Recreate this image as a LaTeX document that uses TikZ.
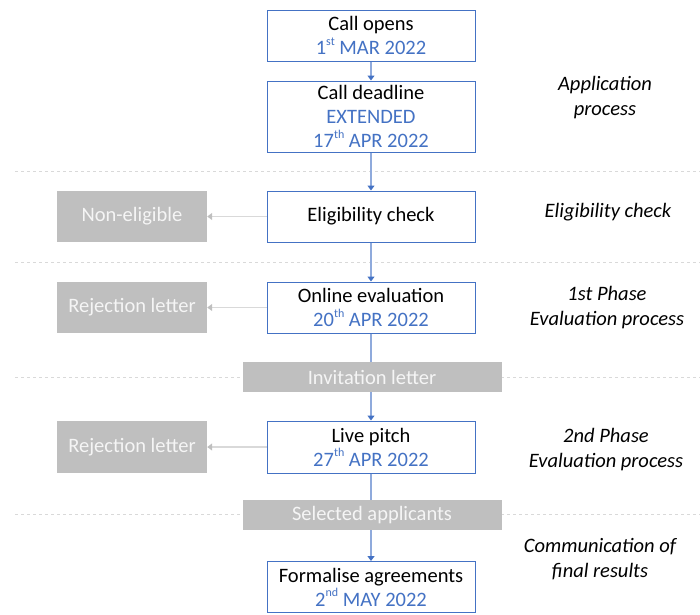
\documentclass[tikz,border=0pt]{standalone}
\usepackage{fontspec}
\setmainfont{Carlito}
\usetikzlibrary{arrows.meta,backgrounds}
\definecolor{ablue}{HTML}{4472C4}
\definecolor{lblue}{HTML}{8FAADC}
\definecolor{boxgray}{HTML}{BFBFBF}
\definecolor{linegray}{HTML}{D9D9D9}
\definecolor{textgray}{HTML}{F5F5F5}
\newcommand{\when}[1]{\textcolor{ablue}{#1}}
\newcommand{\ord}[1]{\raisebox{0.45em}{\fontsize{12}{12}\selectfont #1}}
\begin{document}
\begin{tikzpicture}[x=1pt, y=-1pt,
    every node/.style={font=\fontsize{20.5}{24}\selectfont},
    stepbox/.style={draw=ablue, line width=1pt, fill=white, align=center,
      minimum width=208pt, inner sep=0pt},
    sidebox/.style={fill=boxgray, text=textgray, minimum width=150pt, inner sep=0pt},
    barbox/.style={fill=boxgray, text=textgray, minimum width=259pt,
      minimum height=30pt, inner sep=0pt},
    phase/.style={align=center, font=\fontsize{20.5}{25}\selectfont\itshape},
    flow/.style={lblue, line width=1.2pt, -{Triangle[ablue, width=7pt, length=5pt]}},
    reject/.style={linegray, line width=1.2pt, -{Triangle[boxgray, width=7pt, length=5pt]}},
    sep/.style={linegray, dashed, line width=0.8pt}]

  \useasboundingbox (0,0) rectangle (700,614);

  \node [stepbox, minimum height=51pt] (open) at (371, 35.5)
    {Call opens\\\when{1\ord{st} MAR 2022}};
  \node [stepbox, minimum height=71pt] (deadline) at (371, 116.5)
    {Call deadline\\\when{EXTENDED}\\\when{17\ord{th} APR 2022}};
  \node [stepbox, minimum height=51pt] (elig) at (371, 216.5) {Eligibility check};
  \node [stepbox, minimum height=51pt] (online) at (371, 307.5)
    {Online evaluation\\\when{20\ord{th} APR 2022}};
  \node [stepbox, minimum height=52pt] (live) at (371, 447)
    {Live pitch\\\when{27\ord{th} APR 2022}};
  \node [stepbox, minimum height=51pt] (formal) at (371, 587)
    {Formalise agreements\\\when{2\ord{nd} MAY 2022}};

  \node [sidebox, minimum height=51pt] (noelig) at (132, 216.5) {Non-eligible};
  \node [sidebox, minimum height=51pt] (reject1) at (132, 307.5) {Rejection letter};
  \node [sidebox, minimum height=52pt] (reject2) at (132, 447) {Rejection letter};

  \node [barbox] (invite) at (372, 377) {Invitation letter};
  \node [barbox] (select) at (372, 515) {Selected applicants};

  \node [phase] (papp) at (605, 97.5) {Application\\process};
  \node [phase] (pelig) at (608, 212) {Eligibility check};
  \node [phase] (pfirst) at (607, 307.5) {1st Phase\\Evaluation process};
  \node [phase] (psecond) at (606, 449.5) {2nd Phase\\Evaluation process};
  \node [phase] (pcomm) at (600, 559.5) {Communication of\\final results};

  \begin{scope}[on background layer]
    \draw [sep] (15, 171) -- (700, 171);
    \draw [sep] (15, 262) -- (700, 262);
    \draw [sep] (15, 377) -- (700, 377);
    \draw [sep] (15, 514) -- (700, 514);
  \end{scope}

  \draw [flow] (open.south) -- (deadline.north);
  \draw [flow] (deadline.south) -- (elig.north);
  \draw [flow] (elig.south) -- (online.north);
  \draw [lblue, line width=1.2pt] (online.south) -- (online.south |- invite.north);
  \draw [flow] (invite.south -| live.north) -- (live.north);
  \draw [lblue, line width=1.2pt] (live.south) -- (live.south |- select.north);
  \draw [flow] (select.south -| formal.north) -- (formal.north);

  \draw [reject] (elig.west) -- (noelig.east);
  \draw [reject] (online.west) -- (reject1.east);
  \draw [reject] (live.west) -- (reject2.east);
\end{tikzpicture}
\end{document}
